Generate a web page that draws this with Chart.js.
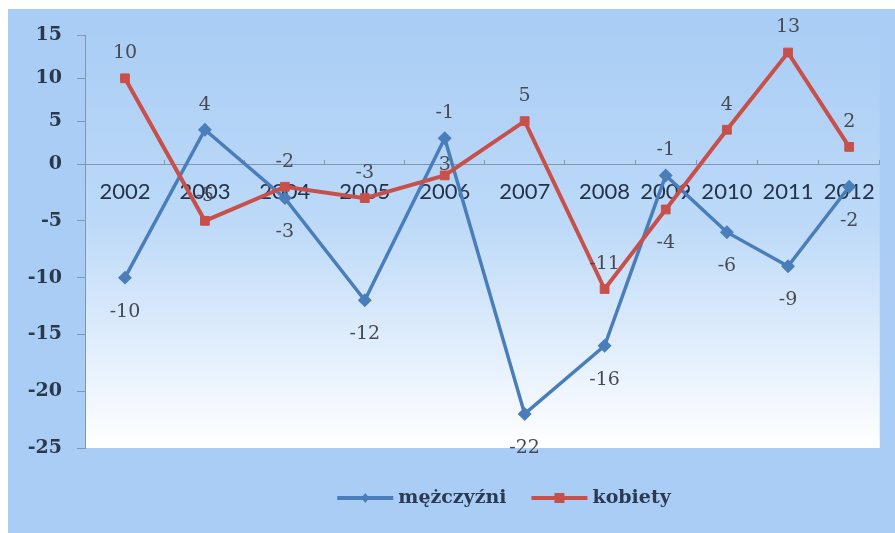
<!DOCTYPE html>
<html>
<head>
<meta charset="utf-8">
<script src="https://cdn.jsdelivr.net/npm/chart.js@4/dist/chart.umd.min.js"></script>
<style>
    body { margin: 0; background: #ffffff; }
    #wrap { position: absolute; left: 8px; top: 9px; width: 887px; height: 524px; background: #a9cdf5; }
</style>
</head>
<body>
<div id="wrap"><canvas id="chart" width="887" height="524"></canvas></div>
<script>
// Chart data
const years = ['2002', '2003', '2004', '2005', '2006', '2007', '2008', '2009', '2010', '2011', '2012'];
const menValues = [-10, 4, -3, -12, 3, -22, -16, -1, -6, -9, -2];
const womenValues = [10, -5, -2, -3, -1, 5, -11, -4, 4, 13, 2];

// Value labels as printed on the original (the 2006 pair is swapped there)
const menLabels = ['-10', '4', '-3', '-12', '-1', '-22', '-16', '-1', '-6', '-9', '-2'];
const womenLabels = ['10', '-5', '-2', '-3', '3', '5', '-11', '-4', '4', '13', '2'];

// Where each value label sits relative to its point
const menLabelPos = ['below', 'above', 'below', 'below', 'above', 'below', 'below', 'above', 'below', 'below', 'below'];
const womenLabelPos = ['above', 'above', 'above', 'above', 'near', 'above', 'above', 'below', 'above', 'above', 'above'];

const yMin = -25;
const yMax = 15;
const yStep = 5;

const BLUE = '#4a7ebb';
const RED = '#c8504b';
const AXIS = '#8197b0';

// The original picture is stretched unevenly, so the scales get a
// piecewise mapping: options.warp = { value, at } puts `value` at fraction `at`.
function warped(Base, id) {
    class Warped extends Base {
        warpParams() {
            const w = this.options.warp;
            if (!w) return null;
            return { b: (w.value - this._startValue) / this._valueRange, t: w.at };
        }
        getPixelForDecimal(d) {
            const p = this.warpParams();
            if (p) d = d <= p.b ? d * p.t / p.b : p.t + (d - p.b) * (1 - p.t) / (1 - p.b);
            return super.getPixelForDecimal(d);
        }
        getDecimalForPixel(px) {
            let d = super.getDecimalForPixel(px);
            const p = this.warpParams();
            if (p) d = d <= p.t ? d * p.b / p.t : p.b + (d - p.t) * (1 - p.b) / (1 - p.t);
            return d;
        }
    }
    Warped.id = id;
    Warped.defaults = {};
    return Warped;
}
Chart.register(warped(Chart.CategoryScale, 'warpedCategory'), warped(Chart.LinearScale, 'warpedLinear'));

// Plot area fill: light blue at the top fading to white
const plotBackground = {
    id: 'plotBackground',
    beforeDraw(chart) {
        const { ctx, chartArea: a } = chart;
        const g = ctx.createLinearGradient(0, a.top, 0, a.bottom);
        g.addColorStop(0, '#abcef5');
        g.addColorStop(0.45, '#bcd9f8');
        g.addColorStop(1, '#ffffff');
        ctx.save();
        ctx.fillStyle = g;
        ctx.fillRect(a.left, a.top, a.right - a.left, a.bottom - a.top);
        ctx.restore();
    }
};

// Value labels next to the points
const pointLabels = {
    id: 'pointLabels',
    afterDatasetsDraw(chart) {
        const { ctx } = chart;
        const texts = [menLabels, womenLabels];
        const places = [menLabelPos, womenLabelPos];
        const shift = { above: -25, below: 34, near: -10 };
        ctx.save();
        ctx.font = '19px "DejaVu Serif"';
        ctx.fillStyle = '#474a50';
        ctx.textAlign = 'center';
        ctx.textBaseline = 'middle';
        chart.data.datasets.forEach((ds, di) => {
            chart.getDatasetMeta(di).data.forEach((pt, i) => {
                ctx.fillText(texts[di][i], pt.x, pt.y + shift[places[di][i]]);
            });
        });
        ctx.restore();
    }
};

// Legend drawn as line + marker, like the original
const lineLegend = {
    id: 'lineLegend',
    afterDraw(chart) {
        const { ctx } = chart;
        const lineLen = 56, textGap = 5, itemGap = 25;
        const cx = 496, cy = 489;
        ctx.save();
        ctx.font = 'bold 19px "DejaVu Serif"';
        ctx.textBaseline = 'middle';
        const items = chart.data.datasets.map(ds => ({ ds, w: ctx.measureText(ds.label).width }));
        const total = items.reduce((s, it) => s + lineLen + textGap + it.w, 0) + itemGap * (items.length - 1);
        let x = cx - total / 2;
        items.forEach(({ ds, w }) => {
            ctx.strokeStyle = ds.borderColor;
            ctx.fillStyle = ds.borderColor;
            ctx.lineWidth = 4;
            ctx.beginPath();
            ctx.moveTo(x, cy);
            ctx.lineTo(x + lineLen, cy);
            ctx.stroke();
            const mx = x + lineLen / 2;
            if (ds.pointStyle === 'rect') {
                ctx.fillRect(mx - 5, cy - 5, 10, 10);
            } else {
                ctx.beginPath();
                ctx.moveTo(mx, cy - 5);
                ctx.lineTo(mx + 4, cy);
                ctx.lineTo(mx, cy + 5);
                ctx.lineTo(mx - 4, cy);
                ctx.closePath();
                ctx.fill();
            }
            ctx.fillStyle = '#2b3a52';
            ctx.fillText(ds.label, x + lineLen + textGap, cy);
            x += lineLen + textGap + w + itemGap;
        });
        ctx.restore();
    }
};

new Chart(document.getElementById('chart'), {
    type: 'line',
    data: {
        labels: years,
        datasets: [
            {
                label: 'mężczyźni',
                data: menValues,
                borderColor: BLUE,
                backgroundColor: BLUE,
                borderWidth: 3.5,
                pointStyle: 'rectRot',
                pointRadius: 4.5,
                pointBackgroundColor: BLUE,
                pointBorderColor: BLUE,
                tension: 0,
                order: 2
            },
            {
                label: 'kobiety',
                data: womenValues,
                borderColor: RED,
                backgroundColor: RED,
                borderWidth: 4,
                pointStyle: 'rect',
                pointRadius: 6.2,
                pointBorderWidth: 1,
                pointBackgroundColor: RED,
                pointBorderColor: RED,
                tension: 0,
                order: 1
            }
        ]
    },
    options: {
        responsive: false,
        animation: false,
        layout: { padding: { left: 0, right: 7, top: 22, bottom: 85 } },
        plugins: {
            legend: { display: false },
            tooltip: { enabled: false }
        },
        scales: {
            x: {
                type: 'warpedCategory',
                position: { y: 0 },
                offset: true,
                warp: { value: 6, at: 0.6538 },
                grid: { drawOnChartArea: false, drawTicks: true, tickLength: -5, color: AXIS, offset: true },
                border: { display: true, color: AXIS, width: 1 },
                ticks: {
                    font: { family: 'Lato', size: 22 },
                    color: '#24334a',
                    padding: 20,
                    maxRotation: 0,
                    autoSkip: false
                }
            },
            y: {
                type: 'warpedLinear',
                min: yMin,
                max: yMax,
                warp: { value: 0, at: 0.6882 },
                grid: { drawOnChartArea: false, drawTicks: true, tickLength: 8, color: AXIS },
                border: { display: true, color: AXIS, width: 1 },
                ticks: {
                    stepSize: yStep,
                    font: { family: 'DejaVu Serif', size: 19, weight: 'bold' },
                    color: '#2a384c',
                    padding: 15
                },
                afterFit(scale) { scale.width = 77; }
            }
        }
    },
    plugins: [plotBackground, pointLabels, lineLegend]
});
</script>
</body>
</html>
